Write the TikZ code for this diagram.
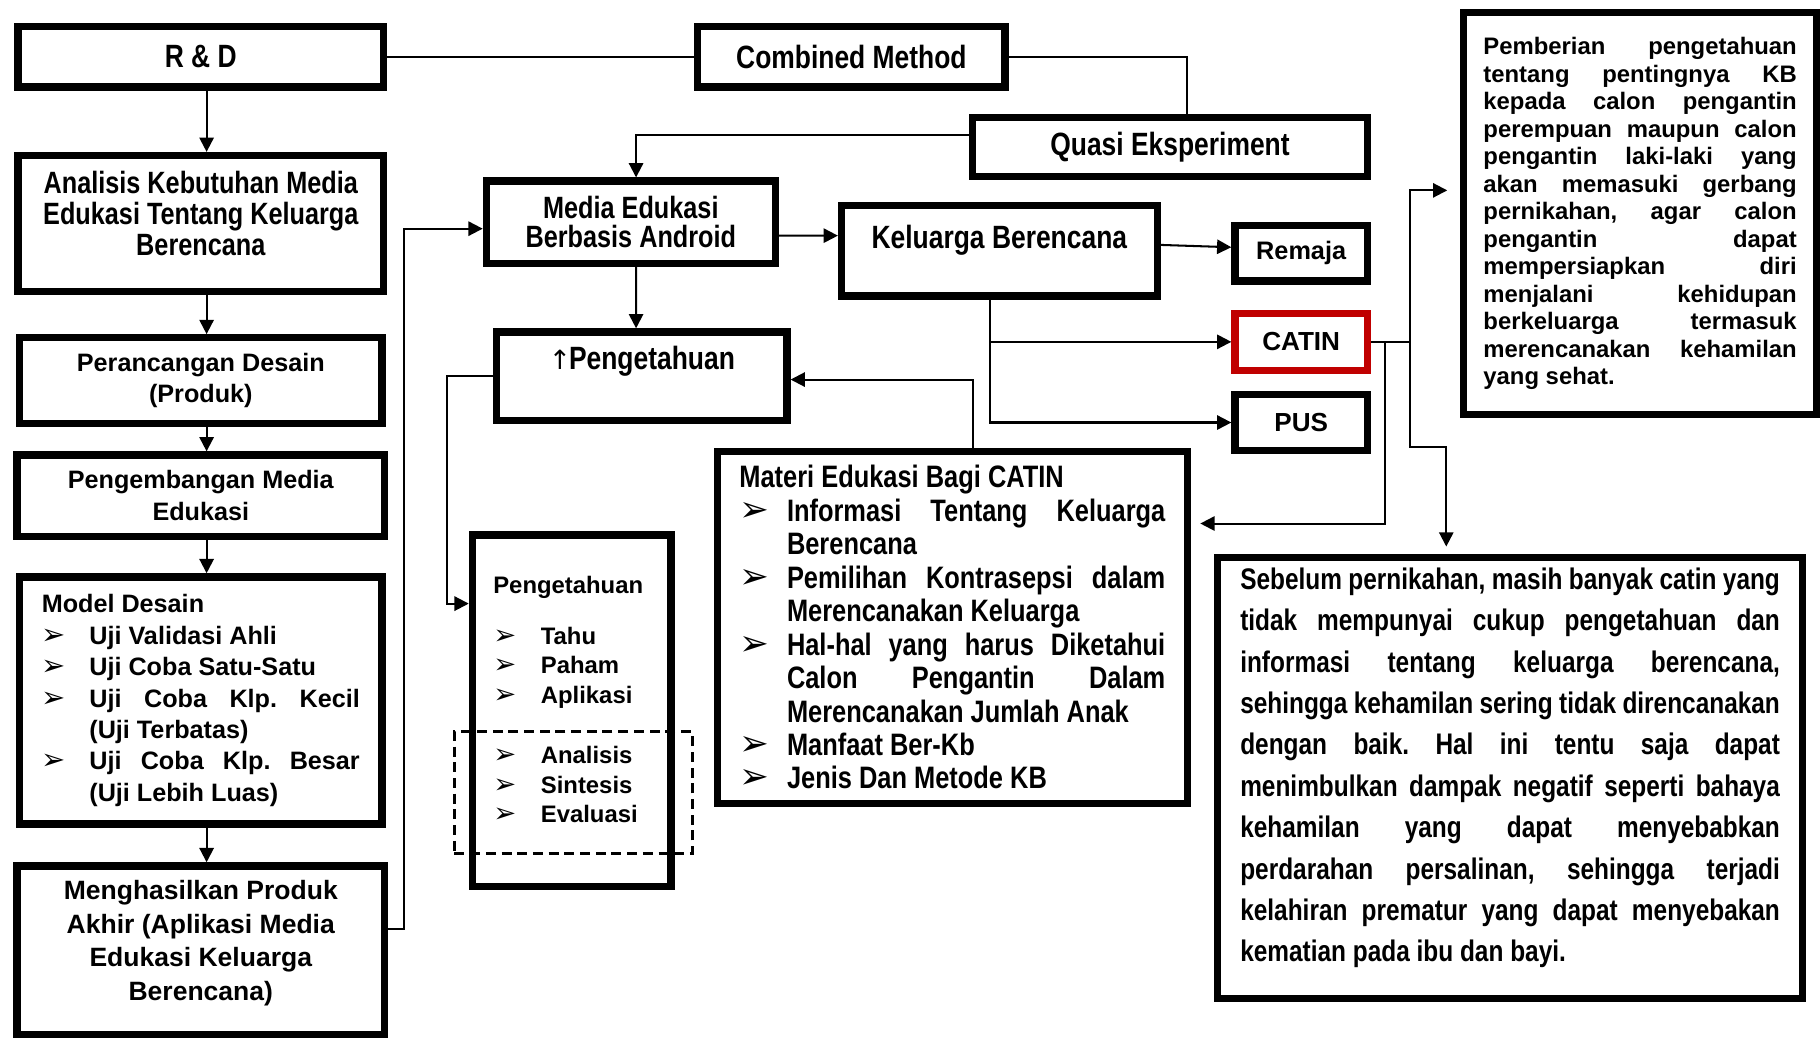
\documentclass[tikz,border=0pt]{standalone}
\usepackage{fontspec}
\setmainfont{Liberation Sans}
\newfontfamily\narrowfont[FakeStretch=0.82]{Liberation Sans}
\newfontfamily\symfont{DejaVu Sans}
\usetikzlibrary{arrows.meta}
\frenchspacing

\definecolor{merah}{RGB}{192,0,0}

\newcommand{\butir}{\makebox[0.82cm][l]{\symfont\mdseries\scalebox{1.15}{➢}}}
\newcommand{\rata}[1]{\makebox[\linewidth][s]{#1}}
\newcommand{\ratab}[1]{\makebox[\dimexpr\linewidth-0.82cm\relax][s]{#1}}
\newcommand{\naikkan}[2]{\raisebox{#1}[\height][\depth]{#2}}

\tikzset{
  kotak/.style={draw, line width=3.6pt, inner sep=0pt},
  sempit/.style={font=\narrowfont\bfseries\fontsize{15.8}{15}\selectfont},
  biasa/.style={font=\bfseries\fontsize{12.35}{15.4}\selectfont},
  panah/.style={line width=1pt, -{Triangle[length=7pt,width=7pt]}},
  garis/.style={line width=1pt},
  putus/.style={draw, line width=1.5pt, dash pattern=on 4.9pt off 2.8pt, inner sep=0pt}
}

\begin{document}
\begin{tikzpicture}[x=0.02cm,y=-0.02cm]

\useasboundingbox (0,0) rectangle (1568,894);

% kolom kiri
\node[kotak, sempit, minimum width=6.30cm, minimum height=1.04cm] (rd) at (173,49) {R \& D};
\node[kotak, sempit, font=\narrowfont\bfseries\fontsize{15.1}{15.2}\selectfont, minimum width=6.30cm, minimum height=2.34cm] (analisis) at (173,192.5)
  {\naikkan{0.17cm}{\parbox{6cm}{\centering Analisis Kebutuhan Media\\Edukasi Tentang Keluarga\\Berencana}}};
\node[kotak, biasa, align=center, minimum width=6.24cm, minimum height=1.48cm] (rancang) at (173,328) {Perancangan Desain\\(Produk)};
\node[kotak, biasa, align=center, minimum width=6.34cm, minimum height=1.40cm] (kembang) at (173,427) {Pengembangan Media\\Edukasi};
\node[kotak, biasa, minimum width=6.24cm, minimum height=4.26cm] (model) at (173,603.5)
  {\parbox{5.48cm}{Model Desain\\
  \butir Uji Validasi Ahli\\
  \butir Uji Coba Satu-Satu\\
  \butir\ratab{Uji Coba Klp. Kecil}\\
  \hspace*{0.82cm}(Uji Terbatas)\\
  \butir\ratab{Uji Coba Klp. Besar}\\
  \hspace*{0.82cm}(Uji Lebih Luas)}};
\node[kotak, font=\bfseries\fontsize{13}{16.5}\selectfont, minimum width=6.34cm, minimum height=2.90cm] (hasil) at (173,818.5)
  {\naikkan{0.12cm}{\parbox{6.3cm}{\centering Menghasilkan Produk\\Akhir (Aplikasi Media\\Edukasi Keluarga\\Berencana)}}};

% tengah
\node[kotak, sempit, minimum width=5.30cm, minimum height=1.04cm] (combined) at (733.5,49) {Combined Method};
\node[kotak, sempit, minimum width=6.80cm, minimum height=1.02cm] (quasi) at (1008,126.5) {Quasi Eksperiment};
\node[kotak, sempit, font=\narrowfont\bfseries\fontsize{15.1}{14.2}\selectfont, align=center, minimum width=4.98cm, minimum height=1.42cm] (media) at (543.5,191.5) {Media Edukasi\\Berbasis Android};
\node[kotak, sempit, minimum width=5.44cm, minimum height=1.56cm] (keluarga) at (861,216) {\naikkan{0.18cm}{Keluarga Berencana}};
\node[kotak, sempit, minimum width=5.0cm, minimum height=1.52cm] (naik) at (553,324) {\naikkan{0.26cm}{{\symfont\mdseries\fontsize{13}{13}\selectfont ↑}\kern-1pt Pengetahuan}};
\node[kotak, font=\bfseries\fontsize{11.7}{14.5}\selectfont, minimum width=3.42cm, minimum height=6.06cm] (tahu) at (492.5,612.5)
  {\naikkan{0.2cm}{\parbox{2.7cm}{Pengetahuan\\[10.5pt]
  \butir Tahu\\
  \butir Paham\\
  \butir Aplikasi\\[15pt]
  \butir Analisis\\
  \butir Sintesis\\
  \butir Evaluasi}}};
\node[putus, minimum width=4.10cm, minimum height=2.10cm] (tinggi) at (494,683) {};
\node[kotak, font=\narrowfont\bfseries\fontsize{15.2}{16.4}\selectfont, minimum width=8.10cm, minimum height=6.06cm] (materi) at (820.5,540.5)
  {\naikkan{0cm}{\parbox{7.34cm}{Materi Edukasi Bagi CATIN\\
  \butir\ratab{Informasi Tentang Keluarga}\\
  \hspace*{0.82cm}Berencana\\
  \butir\ratab{Pemilihan Kontrasepsi dalam}\\
  \hspace*{0.82cm}Merencanakan Keluarga\\
  \butir\ratab{Hal-hal yang harus Diketahui}\\
  \hspace*{0.82cm}\ratab{Calon Pengantin Dalam}\\
  \hspace*{0.82cm}Merencanakan Jumlah Anak\\
  \butir Manfaat Ber-Kb\\
  \butir Jenis Dan Metode KB}}};

% sasaran
\node[kotak, font=\bfseries\fontsize{12.4}{12.4}\selectfont, minimum width=2.28cm, minimum height=0.96cm] (remaja) at (1121,218) {Remaja};
\node[kotak, draw=merah, font=\bfseries\fontsize{12.8}{12.8}\selectfont, minimum width=2.28cm, minimum height=0.98cm] (catin) at (1121,294.5) {CATIN};
\node[kotak, font=\bfseries\fontsize{12.8}{12.8}\selectfont, minimum width=2.28cm, minimum height=0.96cm] (pus) at (1121,364) {PUS};

% kanan
\node[kotak, font=\bfseries\fontsize{11.7}{13.5}\selectfont, minimum width=6.08cm, minimum height=6.92cm] (pemberian) at (1413,184)
  {\parbox{5.4cm}{\rata{Pemberian pengetahuan}\\
  \rata{tentang pentingnya KB}\\
  \rata{kepada calon pengantin}\\
  \rata{perempuan maupun calon}\\
  \rata{pengantin laki-laki yang}\\
  \rata{akan memasuki gerbang}\\
  \rata{pernikahan, agar calon}\\
  \rata{pengantin dapat}\\
  \rata{mempersiapkan diri}\\
  \rata{menjalani kehidupan}\\
  \rata{berkeluarga termasuk}\\
  \rata{merencanakan kehamilan}\\
  yang sehat.}};
\node[kotak, font=\narrowfont\bfseries\fontsize{14.6}{20.3}\selectfont, minimum width=10.08cm, minimum height=7.60cm] (sebelum) at (1301,670)
  {\naikkan{0.17cm}{\parbox{9.3cm}{\rata{Sebelum pernikahan, masih banyak catin yang}\\
  \rata{tidak mempunyai cukup pengetahuan dan}\\
  \rata{informasi tentang keluarga berencana,}\\
  \rata{sehingga kehamilan sering tidak direncanakan}\\
  \rata{dengan baik. Hal ini tentu saja dapat}\\
  \rata{menimbulkan dampak negatif seperti bahaya}\\
  \rata{kehamilan yang dapat menyebabkan}\\
  \rata{perdarahan persalinan, sehingga terjadi}\\
  \rata{kelahiran prematur yang dapat menyebakan}\\
  kematian pada ibu dan bayi.}}};

% penghubung
\foreach \a/\b in {rd/analisis,analisis/rancang,rancang/kembang,kembang/model,model/hasil}
  \draw[panah] ([xshift=0.1cm]\a.south) -- ([xshift=0.1cm]\b.north);

\draw[garis] (rd.east) -- (combined.west);
\draw[garis] (combined.east) -| ([xshift=0.3cm]quasi.north);
\draw[panah] ([yshift=0.21cm]quasi.west) -| ([xshift=0.09cm]media.north);
\draw[panah] ([yshift=0.37cm]hasil.east) -- ++(0.27cm,0) |- ([yshift=-0.11cm]media.west);
\draw[panah] ([yshift=-0.23cm]media.east) -- ([yshift=0.26cm]keluarga.west);
\draw[panah] ([xshift=0.09cm]media.south) -- ([xshift=-0.1cm]naik.north);
\draw[panah] ([yshift=0.1cm]keluarga.east) -- ([yshift=0.1cm]remaja.west);
\draw[panah] ([xshift=-0.16cm]keluarga.south) |- (catin.west);
\draw[panah] ([xshift=-0.16cm]keluarga.south) |- (pus.west);
\draw[panah] ([xshift=0.35cm]materi.north) |- ([yshift=-0.06cm]naik.east);
\draw[panah] (naik.west) -- ++(-0.8cm,0) |- ([yshift=1.85cm]tahu.west);
\draw[panah] (catin.east) -- ++(0.68cm,0) |- ([xshift=-0.22cm,yshift=0.4cm]pemberian.west);
\draw[panah] ([xshift=0.24cm]catin.east) |- ([xshift=0.16cm,yshift=1.79cm]materi.east);
\draw[panah] ([xshift=0.68cm]catin.east) -- ++(0,-1.81cm) -| ([xshift=-1.1cm,yshift=0.12cm]sebelum.north);

\end{tikzpicture}
\end{document}
